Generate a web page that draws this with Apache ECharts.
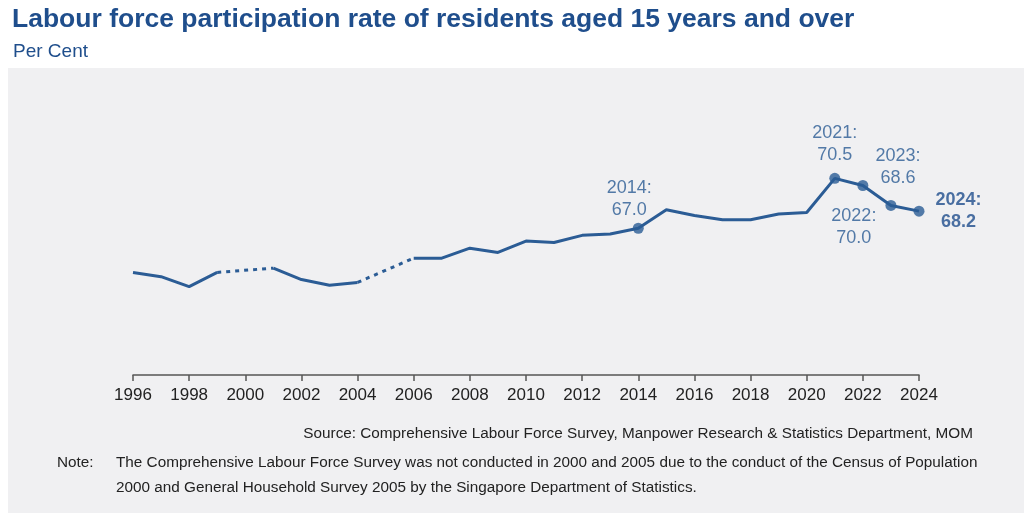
<!DOCTYPE html>
<html>
<head>
<meta charset="utf-8">
<script src="https://cdn.jsdelivr.net/npm/echarts@6/dist/echarts.min.js"></script>
<style>
html,body{margin:0;padding:0;background:#fff;}
#c{width:1024px;height:516px;}
</style>
</head>
<body>
<div id="c"></div>
<script>
// ---- data ----
const years = [1996,1997,1998,1999,2000,2001,2002,2003,2004,2005,2006,2007,2008,2009,2010,2011,2012,2013,2014,2015,2016,2017,2018,2019,2020,2021,2022,2023,2024];
const rates = [63.9,63.6,62.9,63.9,null,64.2,63.4,63.0,63.2,null,64.9,64.9,65.6,65.3,66.1,66.0,66.5,66.6,67.0,68.3,67.9,67.6,67.6,68.0,68.1,70.5,70.0,68.6,68.2];
const gapYears = [2000, 2005];
const labelledYears = [2014, 2021, 2022, 2023, 2024];
const titleText = 'Labour force participation rate of residents aged 15 years and over';
const unitText = 'Per Cent';
const sourceText = 'Source: Comprehensive Labour Force Survey, Manpower Research & Statistics Department, MOM';
const noteLabel = 'Note:';
const noteLines = ['The Comprehensive Labour Force Survey was not conducted in 2000 and 2005 due to the conduct of the Census of Population',
                   '2000 and General Household Survey 2005 by the Singapore Department of Statistics.'];

// ---- build ----
const LINE = '#2b5c95';
const LABEL = '#2a5b94';
const FONT = '"Liberation Sans", Arial, sans-serif';
const mainData = years.map((y, i) => [y, rates[i]]);
const valueOf = y => rates[years.indexOf(y)];

const dottedSeries = gapYears.map(g => ({
  type: 'line',
  data: [[g - 1, valueOf(g - 1)], [g + 1, valueOf(g + 1)]],
  showSymbol: false,
  lineStyle: { color: LINE, width: 3, type: [4, 5] },
  z: 2,
  silent: true
}));

const labelStyles = {
  2014: { position: 'top', distance: 2, offset: [-9, 0] },
  2021: { position: 'top', distance: 7, offset: [0, 0] },
  2022: { position: 'bottom', distance: 14, offset: [-9, 0] },
  2023: { position: 'top', distance: 11, offset: [7, 0] },
  2024: { position: 'right', distance: 10, offset: [24, 0], align: 'center', fontWeight: 'bold', color: '#1f4e8c' }
};

const pointData = labelledYears.map(y => {
  const st = labelStyles[y];
  return {
    value: [y, valueOf(y)],
    label: Object.assign({
      show: true,
      formatter: y + ':\n' + valueOf(y).toFixed(1),
      color: LABEL,
      fontSize: 18,
      lineHeight: 22,
      fontFamily: FONT,
      align: 'center'
    }, st)
  };
});

const chart = echarts.init(document.getElementById('c'), null, { renderer: 'canvas' });
chart.setOption({
  animation: false,
  backgroundColor: '#ffffff',
  graphic: [
    { type: 'rect', left: 8, top: 68, shape: { width: 1016, height: 445 }, style: { fill: '#f0f0f2' }, z: -10 },
    { type: 'text', right: 51, top: 426, style: { text: sourceText, fill: '#222', font: '15.3px ' + FONT } },
    { type: 'text', left: 57, top: 455, style: { text: noteLabel, fill: '#222', font: '15.3px ' + FONT } },
    { type: 'text', left: 116, top: 455, style: { text: noteLines[0], fill: '#222', font: '15.3px ' + FONT } },
    { type: 'text', left: 116, top: 480, style: { text: noteLines[1], fill: '#222', font: '15.3px ' + FONT } }
  ],
  title: [
    { text: titleText, left: 7, top: 1, textStyle: { color: '#1f4e8c', fontSize: 26.5, fontWeight: 'bold', fontFamily: FONT } },
    { text: unitText, left: 8, top: 37, textStyle: { color: '#1f4e8c', fontSize: 19, fontWeight: 'normal', fontFamily: FONT } }
  ],
  grid: { left: 133, right: 105, top: 157, bottom: 141 },
  xAxis: {
    type: 'value', min: 1996, max: 2024, interval: 2,
    axisLine: { show: true, onZero: false, lineStyle: { color: '#555', width: 1.5 } },
    axisTick: { show: true, length: 6, lineStyle: { color: '#555', width: 1.5 } },
    axisLabel: { color: '#222', fontSize: 17, fontFamily: FONT, margin: 12, formatter: v => String(v) },
    splitLine: { show: false }
  },
  yAxis: { type: 'value', min: 56.7, max: 72, show: false, splitLine: { show: false } },
  series: [
    {
      type: 'line',
      data: mainData,
      connectNulls: false,
      showSymbol: false,
      lineStyle: { color: LINE, width: 3 },
      z: 3
    },
    ...dottedSeries,
    {
      type: 'scatter',
      data: pointData,
      symbolSize: 11,
      itemStyle: { color: LINE },
      z: 4
    }
  ]
});
</script>
</body>
</html>
